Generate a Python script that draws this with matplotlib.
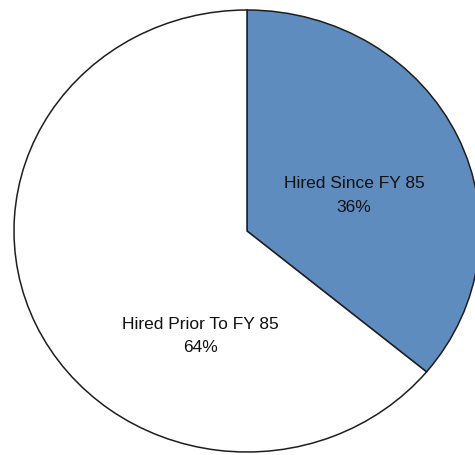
import matplotlib
matplotlib.use("Agg")
import matplotlib.pyplot as plt

# Share of staff by hire date
labels = ["Hired Since FY 85", "Hired Prior To FY 85"]
shares = [36, 64]
colors = ["#5f8cbf", "#ffffff"]

# label anchor spots (data coords, pie radius = 1)
label_xy = [(0.46, 0.16), (-0.20, -0.475)]

fig = plt.figure(figsize=(4.75, 4.55), dpi=100)
ax = fig.add_axes([14 / 475, 3 / 455, 466 / 475, 442 / 455])

wedges, _ = ax.pie(shares, colors=colors, startangle=90, counterclock=False,
                   radius=1, wedgeprops=dict(edgecolor="#1e1e1e", linewidth=1.1))
ax.set_aspect("auto")
ax.set_xlim(-1, 1)
ax.set_ylim(-1, 1)
ax.axis("off")

for lab, val, (x, y) in zip(labels, shares, label_xy):
    ax.text(x, y, f"{lab}\n{val}%", ha="center", va="center",
            fontsize=12.5, family="Liberation Sans", color="#111111",
            linespacing=1.7)

fig.savefig("out.png", dpi=100)
